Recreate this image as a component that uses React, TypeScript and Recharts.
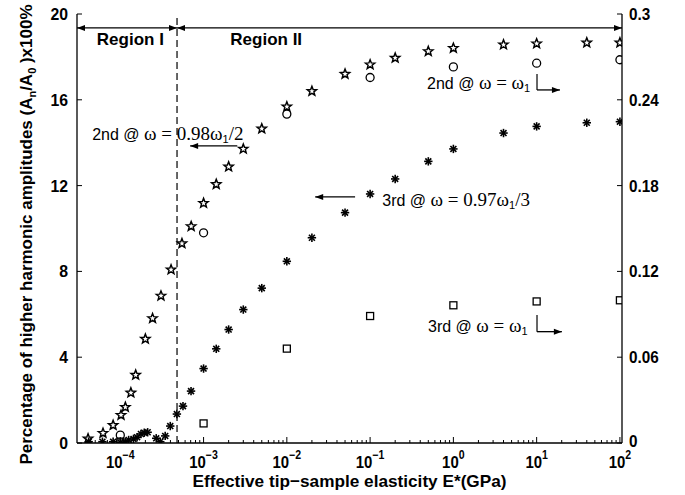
import React from 'react';
import { ScatterChart, Scatter, XAxis, YAxis, ReferenceLine, ReferenceDot } from 'recharts';

// ---------------- data ----------------
// 2nd harmonic @ w = 0.98 w1/2  (stars, left axis, %)
const star2ndX = [4.1e-5, 6.2e-5, 8.2e-5, 1.02e-4, 1.15e-4, 1.34e-4, 1.53e-4, 2.0e-4, 2.44e-4, 3.08e-4, 4.07e-4, 5.5e-4, 7.1e-4, 1e-3, 1.42e-3, 2e-3, 3e-3, 5e-3, 1e-2, 2e-2, 5e-2, 0.1, 0.2, 0.5, 1, 4, 10, 40, 100];
const star2ndY = [0.22, 0.48, 0.85, 1.32, 1.69, 2.36, 3.19, 4.87, 5.83, 6.88, 8.1, 9.32, 10.12, 11.2, 12.08, 12.9, 13.73, 14.67, 15.7, 16.42, 17.22, 17.66, 17.97, 18.28, 18.43, 18.59, 18.64, 18.68, 18.68];
// 3rd harmonic @ w = 0.97 w1/3  (asterisks, left axis, %)
const ast3rdX = [4.17e-5, 6.1e-5, 8.2e-5, 1.0e-4, 1.15e-4, 1.26e-4, 1.44e-4, 1.59e-4, 1.77e-4, 1.94e-4, 2.13e-4, 2.7e-4, 3.02e-4, 3.46e-4, 3.98e-4, 4.78e-4, 5.66e-4, 7.07e-4, 1e-3, 1.42e-3, 2e-3, 3e-3, 5e-3, 1e-2, 2e-2, 5e-2, 0.1, 0.2, 0.5, 1, 4, 10, 40, 100];
const ast3rdY = [0.06, 0.06, 0.06, 0.03, 0.05, 0.14, 0.19, 0.27, 0.42, 0.48, 0.5, 0.22, 0.06, 0.33, 0.79, 1.35, 1.72, 2.42, 3.47, 4.39, 5.29, 6.22, 7.22, 8.47, 9.57, 10.74, 11.61, 12.31, 13.13, 13.71, 14.45, 14.76, 14.93, 14.98];
// 2nd harmonic @ w = w1 (circles, right axis)
const circ2ndX = [1e-4, 1e-3, 1e-2, 0.1, 1, 10, 100];
const circ2ndY = [0.0055, 0.147, 0.23, 0.2556, 0.263, 0.2656, 0.268];
// 3rd harmonic @ w = w1 (squares, right axis)
const sq3rdX = [1e-4, 1e-3, 1e-2, 0.1, 1, 10, 100];
const sq3rdY = [0.001, 0.0137, 0.066, 0.0888, 0.0963, 0.099, 0.0998];

// ticks
const xMajorTicks = [1e-4, 1e-3, 1e-2, 1e-1, 1, 10, 100];
const xMajorExps = ['\u22124', '\u22123', '\u22122', '\u22121', '0', '1', '2'];
const leftTicks = [0, 4, 8, 12, 16, 20];
const leftTickLabels = ['0', '4', '8', '12', '16', '20'];
const rightTicks = [0, 0.06, 0.12, 0.18, 0.24, 0.3];
const rightTickLabels = ['0', '0.06', '0.12', '0.18', '0.24', '0.3'];

// ---------------- layout / style ----------------
const W = 685;
const H = 495;
const X_LO = Math.pow(10, -4.52);
const X_HI = Math.pow(10, 2.025);
const SANS = '"Liberation Sans", Arial, Helvetica, sans-serif';
const SERIF = '"Liberation Serif", "Times New Roman", Times, serif';

const minorTicks: number[] = [];
for (let e = -5; e <= 1; e++) {
  for (let m = 2; m <= 9; m++) {
    const v = m * Math.pow(10, e);
    if (v >= X_LO && v <= X_HI) minorTicks.push(v);
  }
}
const allXTicks = [...xMajorTicks, ...minorTicks].sort((a, b) => a - b);

const toPts = (xs: number[], ys: number[]) => xs.map((x, i) => ({ x, y: ys[i] }));
const starData = toPts(star2ndX, star2ndY);
const astData = toPts(ast3rdX, ast3rdY);
const circData = toPts(circ2ndX, circ2ndY);
const sqData = toPts(sq3rdX, sq3rdY);

// annotation anchors (data coordinates: x in GPa, y on left axis)
const DASH_X = 4.8e-4;
const REGION_Y = 19.35;

// ---------------- marker shapes ----------------
const StarShape = (p: any) => {
  const { cx, cy } = p;
  if (cx == null || cy == null) return <g />;
  let d = '';
  for (let i = 0; i < 10; i++) {
    const a = -Math.PI / 2 + (i * Math.PI) / 5;
    const r = i % 2 === 0 ? 4.9 : 2.1;
    d += (i ? 'L' : 'M') + (cx + r * Math.cos(a)).toFixed(2) + ',' + (cy + 0.4 + r * Math.sin(a)).toFixed(2);
  }
  return <path d={d + 'Z'} fill="none" stroke="#000" strokeWidth={1.45} strokeLinejoin="miter" />;
};
const AstShape = (p: any) => {
  const { cx, cy } = p;
  if (cx == null || cy == null) return <g />;
  const r = 4.2;
  const q = r * 0.7071;
  return (
    <g stroke="#000" strokeWidth={1.6}>
      <line x1={cx - r} y1={cy} x2={cx + r} y2={cy} />
      <line x1={cx} y1={cy - r} x2={cx} y2={cy + r} />
      <line x1={cx - q} y1={cy - q} x2={cx + q} y2={cy + q} />
      <line x1={cx - q} y1={cy + q} x2={cx + q} y2={cy - q} />
    </g>
  );
};
const CircShape = (p: any) => {
  const { cx, cy } = p;
  if (cx == null || cy == null) return <g />;
  return <circle cx={cx} cy={cy} r={4} fill="none" stroke="#000" strokeWidth={1.3} />;
};
const SqShape = (p: any) => {
  const { cx, cy } = p;
  if (cx == null || cy == null) return <g />;
  return <rect x={cx - 3.5} y={cy - 3.5} width={7} height={7} fill="none" stroke="#000" strokeWidth={1.3} />;
};

// ---------------- ticks ----------------
const BottomTick = (p: any) => {
  const { x, y, payload } = p;
  const idx = xMajorTicks.indexOf(payload.value);
  const major = idx >= 0;
  return (
    <g>
      <line x1={x} x2={x} y1={y} y2={y - (major ? 6 : 3)} stroke="#000" strokeWidth={1} />
      {major && (
        <text
          transform={`translate(${x},${y + 25}) scale(0.88,1)`}
          textAnchor="middle"
          fontFamily={SANS}
          fontWeight="bold"
          fontSize={17}
          fill="#000"
        >
          10
          <tspan dy={-9} fontSize={12}>{xMajorExps[idx]}</tspan>
        </text>
      )}
    </g>
  );
};
const TopTick = (p: any) => {
  const { x, y, payload } = p;
  const major = xMajorTicks.indexOf(payload.value) >= 0;
  return <line x1={x} x2={x} y1={y} y2={y + (major ? 6 : 3)} stroke="#000" strokeWidth={1} />;
};
const LeftTick = (p: any) => {
  const { x, y, payload } = p;
  const idx = leftTicks.indexOf(payload.value);
  return (
    <g>
      <line x1={x} x2={x + 5} y1={y} y2={y} stroke="#000" strokeWidth={1} />
      <text
        transform={`translate(${x - 9},${y + 6}) scale(0.93,1)`}
        textAnchor="end"
        fontFamily={SANS}
        fontWeight="bold"
        fontSize={17}
        fill="#000"
      >
        {leftTickLabels[idx]}
      </text>
    </g>
  );
};
const RightTick = (p: any) => {
  const { x, y, payload } = p;
  const idx = rightTicks.indexOf(payload.value);
  return (
    <g>
      <line x1={x} x2={x - 5} y1={y} y2={y} stroke="#000" strokeWidth={1} />
      <text
        transform={`translate(${x + 7},${y + (idx === 0 ? 4 : 6)}) scale(0.9,1)`}
        textAnchor="start"
        fontFamily={SANS}
        fontWeight="bold"
        fontSize={17}
        fill="#000"
      >
        {rightTickLabels[idx]}
      </text>
    </g>
  );
};

// ---------------- axis labels ----------------
const XLabel = (p: any) => {
  const vb = p.viewBox || { x: 77, y: 443, width: 545, height: 52 };
  return (
    <text
      x={vb.x + vb.width / 2}
      y={vb.y + 44}
      textAnchor="middle"
      fontFamily={SANS}
      fontWeight="bold"
      fontSize={17}
      textLength={314}
      lengthAdjust="spacingAndGlyphs"
      fill="#000"
    >
      Effective tip{'\u2212'}sample elasticity E*(GPa)
    </text>
  );
};
const YLabel = (p: any) => {
  const vb = p.viewBox || { x: 0, y: 14, width: 77, height: 429 };
  const cx = 32;
  const cy = vb.y + vb.height / 2 + 6;
  return (
    <text
      transform={`translate(${cx},${cy}) rotate(-90)`}
      textAnchor="middle"
      fontFamily={SANS}
      fontWeight="bold"
      fontSize={17}
      textLength={460}
      lengthAdjust="spacingAndGlyphs"
      fill="#000"
      style={{ whiteSpace: 'pre' }}
    >
      Percentage of higher harmonic amplitudes (A
      <tspan fontSize={11} dy={4}>n</tspan>
      <tspan dy={-4}>/A</tspan>
      <tspan fontSize={11} dy={4}>0</tspan>
      <tspan dy={-4}> )x100%</tspan>
    </text>
  );
};

// ---------------- annotation shapes ----------------
const head = (x: number, y: number, a: number, key: string) => {
  const L = 8;
  const hw = 3;
  const bx = x - L * Math.cos(a);
  const by = y - L * Math.sin(a);
  const px = -Math.sin(a) * hw;
  const py = Math.cos(a) * hw;
  return <polygon key={key} points={`${x},${y} ${bx + px},${by + py} ${bx - px},${by - py}`} fill="#000" />;
};
const arrowShape = (startHead: boolean, endHead: boolean) => (p: any) => {
  const { x1, y1, x2, y2 } = p;
  const a = Math.atan2(y2 - y1, x2 - x1);
  return (
    <g>
      <line x1={x1} y1={y1} x2={x2} y2={y2} stroke="#000" strokeWidth={1.3} />
      {startHead && head(x1, y1, a + Math.PI, 's')}
      {endHead && head(x2, y2, a, 'e')}
    </g>
  );
};
const plainSeg = (p: any) => <line x1={p.x1} y1={p.y1} x2={p.x2} y2={p.y2} stroke="#000" strokeWidth={1.2} />;

const regionText = (label: string) => (p: any) => (
  <text x={p.cx} y={p.cy} textAnchor="middle" fontFamily={SANS} fontWeight="bold" fontSize={17} fill="#000">
    {label}
  </text>
);

const annText = (lead: string, mid: string, tail: string) => (p: any) => (
  <text x={p.cx} y={p.cy} fill="#000" style={{ whiteSpace: 'pre' }}>
    <tspan fontFamily={SANS} fontSize={16}>{lead}</tspan>
    <tspan fontFamily={SERIF} fontSize={19}>{mid}</tspan>
    <tspan fontFamily={SANS} fontSize={11} dy={3}>1</tspan>
    <tspan fontFamily={SERIF} fontSize={19} dy={-3}>{tail}</tspan>
  </text>
);

export default function App() {
  return (
    <div style={{ position: 'absolute', left: 0, top: 0, width: W, height: H, background: '#fff' }}>
      <ScatterChart width={W} height={H} margin={{ top: 14, right: 0, bottom: 0, left: 0 }}>
        <XAxis
          xAxisId="b"
          dataKey="x"
          type="number"
          scale="log"
          domain={[X_LO, X_HI]}
          allowDataOverflow
          ticks={allXTicks}
          interval={0}
          tickSize={0}
          tickMargin={0}
          tick={(p: any) => <BottomTick {...p} />}
          axisLine={{ stroke: '#000', strokeWidth: 1.3 }}
          tickLine={false}
          height={52}
          label={XLabel}
        />
        <XAxis
          xAxisId="t"
          orientation="top"
          dataKey="x"
          type="number"
          scale="log"
          domain={[X_LO, X_HI]}
          allowDataOverflow
          ticks={allXTicks}
          interval={0}
          tickSize={0}
          tickMargin={0}
          tick={(p: any) => <TopTick {...p} />}
          axisLine={{ stroke: '#000', strokeWidth: 1.3 }}
          tickLine={false}
          height={0}
        />
        <YAxis
          yAxisId="L"
          dataKey="y"
          type="number"
          domain={[0, 20]}
          allowDataOverflow
          ticks={leftTicks}
          interval={0}
          tickSize={0}
          tickMargin={0}
          tick={(p: any) => <LeftTick {...p} />}
          axisLine={{ stroke: '#000', strokeWidth: 1.3 }}
          tickLine={false}
          width={77}
          label={YLabel}
        />
        <YAxis
          yAxisId="R"
          orientation="right"
          dataKey="y"
          type="number"
          domain={[0, 0.3]}
          allowDataOverflow
          ticks={rightTicks}
          interval={0}
          tickSize={0}
          tickMargin={0}
          tick={(p: any) => <RightTick {...p} />}
          axisLine={{ stroke: '#000', strokeWidth: 1.3 }}
          tickLine={false}
          width={63}
        />

        <ReferenceLine xAxisId="b" yAxisId="L" x={DASH_X} stroke="#000" strokeWidth={1.2} strokeDasharray="7 4" ifOverflow="visible" />
        <ReferenceLine xAxisId="b" yAxisId="L" segment={[{ x: X_LO, y: REGION_Y }, { x: DASH_X, y: REGION_Y }]} shape={arrowShape(true, true)} ifOverflow="visible" />
        <ReferenceLine xAxisId="b" yAxisId="L" segment={[{ x: DASH_X, y: REGION_Y }, { x: X_HI, y: REGION_Y }]} shape={arrowShape(true, true)} ifOverflow="visible" />
        <ReferenceDot xAxisId="b" yAxisId="L" x={1.32e-4} y={18.55} r={0} shape={regionText('Region I')} ifOverflow="visible" />
        <ReferenceDot xAxisId="b" yAxisId="L" x={5.65e-3} y={18.55} r={0} shape={regionText('Region II')} ifOverflow="visible" />

        <ReferenceDot xAxisId="b" yAxisId="L" x={4.6e-5} y={14.13} r={0} shape={annText('2nd @ ', '\u03c9 = 0.98\u03c9', '/2')} ifOverflow="visible" />
        <ReferenceLine xAxisId="b" yAxisId="L" segment={[{ x: 2.54e-3, y: 13.85 }, { x: 6.9e-4, y: 13.85 }]} shape={arrowShape(false, true)} ifOverflow="visible" />

        <ReferenceDot xAxisId="b" yAxisId="L" x={0.14} y={11.05} r={0} shape={annText('3rd @ ', '\u03c9 = 0.97\u03c9', '/3')} ifOverflow="visible" />
        <ReferenceLine xAxisId="b" yAxisId="L" segment={[{ x: 0.066, y: 11.47 }, { x: 0.0219, y: 11.47 }]} shape={arrowShape(false, true)} ifOverflow="visible" />

        <ReferenceDot xAxisId="b" yAxisId="L" x={0.483} y={16.5} r={0} shape={annText('2nd @ ', '\u03c9 = \u03c9', '')} ifOverflow="visible" />
        <ReferenceLine xAxisId="b" yAxisId="L" segment={[{ x: 10.1, y: 17.2 }, { x: 10.1, y: 16.46 }]} shape={plainSeg} ifOverflow="visible" />
        <ReferenceLine xAxisId="b" yAxisId="L" segment={[{ x: 10.1, y: 16.46 }, { x: 19.05, y: 16.46 }]} shape={arrowShape(false, true)} ifOverflow="visible" />

        <ReferenceDot xAxisId="b" yAxisId="L" x={0.496} y={5.17} r={0} shape={annText('3rd @ ', '\u03c9 = \u03c9', '')} ifOverflow="visible" />
        <ReferenceLine xAxisId="b" yAxisId="L" segment={[{ x: 10.1, y: 5.97 }, { x: 10.1, y: 5.19 }]} shape={plainSeg} ifOverflow="visible" />
        <ReferenceLine xAxisId="b" yAxisId="L" segment={[{ x: 10.1, y: 5.19 }, { x: 20.1, y: 5.19 }]} shape={arrowShape(false, true)} ifOverflow="visible" />

        <Scatter xAxisId="b" yAxisId="L" data={starData} shape={StarShape} isAnimationActive={false} />
        <Scatter xAxisId="b" yAxisId="L" data={astData} shape={AstShape} isAnimationActive={false} />
        <Scatter xAxisId="b" yAxisId="R" data={circData} shape={CircShape} isAnimationActive={false} />
        <Scatter xAxisId="b" yAxisId="R" data={sqData} shape={SqShape} isAnimationActive={false} />
      </ScatterChart>
    </div>
  );
}
